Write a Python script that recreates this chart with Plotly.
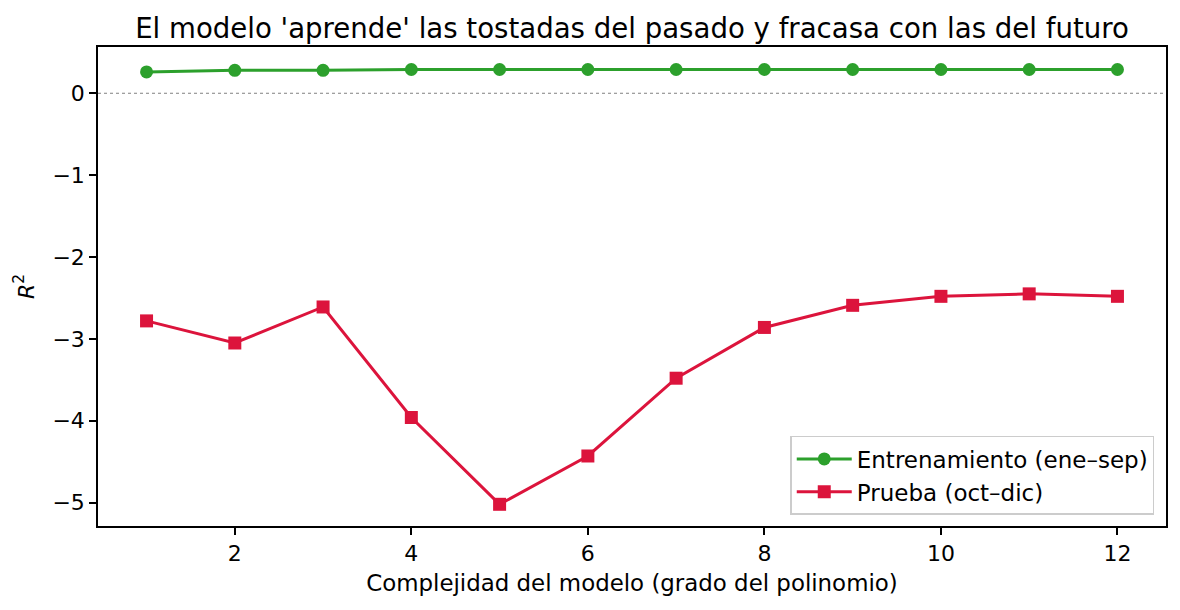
import plotly.graph_objects as go

# Grado del polinomio y R^2
grados = list(range(1, 13))
r2_entrenamiento = [0.26, 0.28, 0.28, 0.29, 0.29, 0.29, 0.29, 0.29, 0.29, 0.29, 0.29, 0.29]
r2_prueba = [-2.78, -3.05, -2.61, -3.96, -5.02, -4.43, -3.48, -2.86, -2.59, -2.48, -2.45, -2.48]

x_ticks = [2, 4, 6, 8, 10, 12]
y_ticks = [0, -1, -2, -3, -4, -5]
y_ticktext = ["0", "\u22121", "\u22122", "\u22123", "\u22124", "\u22125"]

fig = go.Figure()

fig.add_trace(go.Scatter(
    x=grados,
    y=r2_entrenamiento,
    name="Entrenamiento (ene\u2013sep)",
    mode="lines+markers",
    line=dict(color="#2ca02c", width=3),
    marker=dict(symbol="circle", size=13, color="#2ca02c")
))

fig.add_trace(go.Scatter(
    x=grados,
    y=r2_prueba,
    name="Prueba (oct\u2013dic)",
    mode="lines+markers",
    line=dict(color="#dc143c", width=3),
    marker=dict(symbol="square", size=13, color="#dc143c")
))

# linea de referencia en R^2 = 0
fig.add_hline(y=0, line=dict(color="gray", width=1, dash="dot"), layer="below")

axis_style = dict(
    showline=True,
    linecolor="black",
    linewidth=1.5,
    mirror=True,
    ticks="outside",
    ticklen=7,
    tickwidth=1.5,
    tickcolor="black",
    showgrid=False,
    zeroline=False,
    tickfont=dict(size=22, color="black"),
)

fig.update_layout(
    width=1180,
    height=610,
    template="plotly_white",
    font=dict(family="DejaVu Sans", color="black"),
    title=dict(
        text="El modelo 'aprende' las tostadas del pasado y fracasa con las del futuro",
        x=(90 + 1158) / 2 / 1180,
        xanchor="center",
        y=0.967,
        yanchor="middle",
        font=dict(size=27.6, color="black"),
    ),
    margin=dict(l=90, r=22, t=39, b=92),
    plot_bgcolor="white",
    paper_bgcolor="white",
    legend=dict(
        x=0.989,
        y=0.023,
        xanchor="right",
        yanchor="bottom",
        bgcolor="rgba(255,255,255,0.8)",
        bordercolor="#cccccc",
        borderwidth=1.5,
        itemwidth=55,
        font=dict(size=23, color="black"),
    ),
)

fig.update_xaxes(
    **axis_style,
    range=[0.45, 12.55],
    tickvals=x_ticks,
    title=dict(text="Complejidad del modelo (grado del polinomio)", font=dict(size=22.9), standoff=10),
)

fig.update_yaxes(
    **axis_style,
    range=[-5.285, 0.565],
    tickvals=y_ticks,
    ticktext=y_ticktext,
    title=dict(text="<i>R</i><sup>2</sup>", font=dict(size=22), standoff=12),
)

fig.write_html("out.html")
